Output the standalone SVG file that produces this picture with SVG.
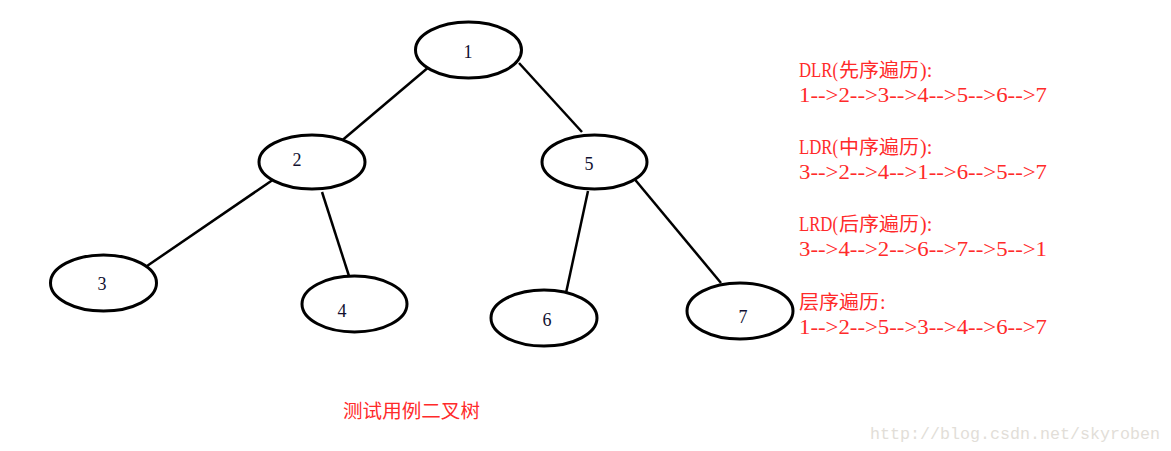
<svg xmlns="http://www.w3.org/2000/svg" width="1171" height="451" viewBox="0 0 1171 451">
<style>
.n ellipse{fill:#fff;stroke:#000;stroke-width:3}
.n text{font-family:"Liberation Serif",serif;font-size:18px;fill:#101030;text-anchor:middle}
.e line{stroke:#000;stroke-width:2.5}
.r{font-family:"Liberation Serif","Noto Sans CJK SC",serif;font-size:20px;fill:#ff2a2a}
.c{font-family:"Noto Sans CJK SC",sans-serif;font-size:19px}
</style>
<rect width="1171" height="451" fill="#fff"/>
<g id="edges" class="e">
<line x1="430" y1="66" x2="339" y2="143"/>
<line x1="519" y1="63" x2="582" y2="132"/>
<line x1="277" y1="177" x2="147" y2="266"/>
<line x1="322" y1="192" x2="349" y2="276"/>
<line x1="588" y1="191" x2="566" y2="293"/>
<line x1="632" y1="176" x2="721" y2="283"/>
</g>
<g id="n1" class="n"><ellipse cx="468.5" cy="50" rx="53" ry="28"/><text x="468" y="58">1</text></g>
<g id="n2" class="n"><ellipse cx="312" cy="162" rx="53" ry="27"/><text x="297" y="166">2</text></g>
<g id="n5" class="n"><ellipse cx="594.5" cy="162" rx="52.5" ry="27"/><text x="589" y="170">5</text></g>
<g id="n3" class="n"><ellipse cx="103.5" cy="283" rx="53" ry="28"/><text x="102" y="290">3</text></g>
<g id="n4" class="n"><ellipse cx="354.5" cy="304" rx="52.5" ry="28"/><text x="342" y="317">4</text></g>
<g id="n6" class="n"><ellipse cx="544" cy="318" rx="53" ry="28"/><text x="547" y="326">6</text></g>
<g id="n7" class="n"><ellipse cx="740" cy="311" rx="53" ry="28"/><text x="743" y="323">7</text></g>
<g id="legend">
<text class="r" x="799" y="77"><tspan textLength="39" lengthAdjust="spacingAndGlyphs">DLR(</tspan><tspan class="c" x="839" textLength="80" lengthAdjust="spacingAndGlyphs">先序遍历</tspan><tspan x="920">):</tspan></text>
<text class="r" x="799" y="102" textLength="248" lengthAdjust="spacingAndGlyphs">1--&gt;2--&gt;3--&gt;4--&gt;5--&gt;6--&gt;7</text>
<text class="r" x="799" y="154"><tspan textLength="39" lengthAdjust="spacingAndGlyphs">LDR(</tspan><tspan class="c" x="839" textLength="80" lengthAdjust="spacingAndGlyphs">中序遍历</tspan><tspan x="920">):</tspan></text>
<text class="r" x="799" y="179" textLength="248" lengthAdjust="spacingAndGlyphs">3--&gt;2--&gt;4--&gt;1--&gt;6--&gt;5--&gt;7</text>
<text class="r" x="799" y="231"><tspan textLength="39" lengthAdjust="spacingAndGlyphs">LRD(</tspan><tspan class="c" x="839" textLength="80" lengthAdjust="spacingAndGlyphs">后序遍历</tspan><tspan x="920">):</tspan></text>
<text class="r" x="799" y="256" textLength="248" lengthAdjust="spacingAndGlyphs">3--&gt;4--&gt;2--&gt;6--&gt;7--&gt;5--&gt;1</text>
<text class="r" x="799" y="309"><tspan class="c" textLength="80" lengthAdjust="spacingAndGlyphs">层序遍历</tspan><tspan x="880">:</tspan></text>
<text class="r" x="799" y="334" textLength="248" lengthAdjust="spacingAndGlyphs">1--&gt;2--&gt;5--&gt;3--&gt;4--&gt;6--&gt;7</text>
</g>
<text x="343" y="418" font-family="Noto Sans CJK SC,sans-serif" font-size="19" fill="#ff2a2a" textLength="137" lengthAdjust="spacingAndGlyphs">测试用例二叉树</text>
<text x="870" y="439" font-family="Liberation Mono,monospace" font-size="17" fill="#e2ded8" textLength="290" lengthAdjust="spacingAndGlyphs">http://blog.csdn.net/skyroben</text>
</svg>
